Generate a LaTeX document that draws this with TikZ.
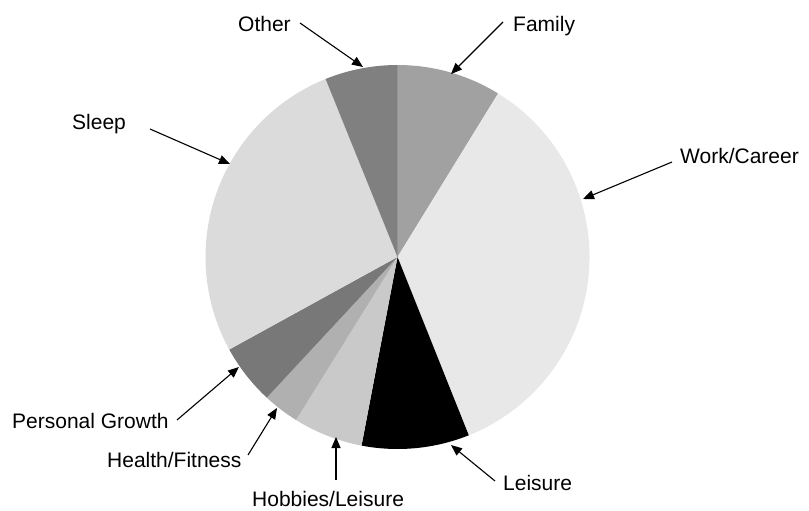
\documentclass[tikz,border=0pt]{standalone}
\usepackage{fontspec}
\setmainfont{Liberation Sans}
\usetikzlibrary{arrows.meta}
\begin{document}
\begin{tikzpicture}[x=1pt,y=1pt,
  lbl/.style={anchor=base west,inner sep=0pt,font=\fontsize{21}{24}\selectfont},
  pointer/.style={line width=1.1pt,-{Triangle[length=11pt,width=9pt]}}]
\useasboundingbox (0,0) rectangle (809,-511);
\coordinate (c) at (397.5,-257);
\def\R{192}
\newcommand{\slice}[3]{\fill[#3] (c) -- ++(#1:\R) arc[start angle=#1,end angle=#2,radius=\R] -- cycle;}
\slice{90}{58.4}{fill=black!37}
\slice{58.4}{-68.2}{fill=black!9}
\slice{-68.2}{-100.8}{fill=black}
\slice{-100.8}{-121.9}{fill=black!21}
\slice{-121.9}{-132.9}{fill=black!31}
\slice{-132.9}{-151.2}{fill=black!53}
\slice{-151.2}{-248}{fill=black!14}
\slice{-248}{-270}{fill=black!50}
\draw[black!42,line width=0.8pt] (c) -- ++(90:\R);
% labels
\node[lbl] (other) at (238,-32) {Other};
\node[lbl] (family) at (513,-32) {Family};
\node[lbl] (sleep) at (72,-129) {Sleep};
\node[lbl] (work) at (680,-163) {Work/Career};
\node[lbl] (leisure) at (503,-490) {Leisure};
\node[lbl] (personal) at (12,-428) {Personal Growth};
\node[lbl] (health) at (107,-467) {Health/Fitness};
\node[lbl] (hobbies) at (252,-506) {Hobbies/Leisure};
% arrow starts
\coordinate (sOther) at (300,-23);
\coordinate (sFamily) at (503,-22);
\coordinate (sSleep) at (150,-129);
\coordinate (sWork) at (672,-162);
\coordinate (sLeisure) at (495,-481);
\coordinate (sPersonal) at (177,-420);
\coordinate (sHealth) at (248,-455);
\coordinate (sHobbies) at (336,-480);
% arrow tips
\coordinate (tOther) at (363,-67);
\coordinate (tFamily) at (451,-74);
\coordinate (tSleep) at (230,-164);
\coordinate (tWork) at (583,-199);
\coordinate (tLeisure) at (451,-445);
\coordinate (tPersonal) at (239,-367);
\coordinate (tHealth) at (277,-408);
\coordinate (tHobbies) at (336,-437);
\draw[pointer] (sOther) -- (tOther);
\draw[pointer] (sFamily) -- (tFamily);
\draw[pointer] (sSleep) -- (tSleep);
\draw[pointer] (sWork) -- (tWork);
\draw[pointer] (sLeisure) -- (tLeisure);
\draw[pointer] (sPersonal) -- (tPersonal);
\draw[pointer] (sHealth) -- (tHealth);
\draw[pointer] (sHobbies) -- (tHobbies);
\end{tikzpicture}
\end{document}
